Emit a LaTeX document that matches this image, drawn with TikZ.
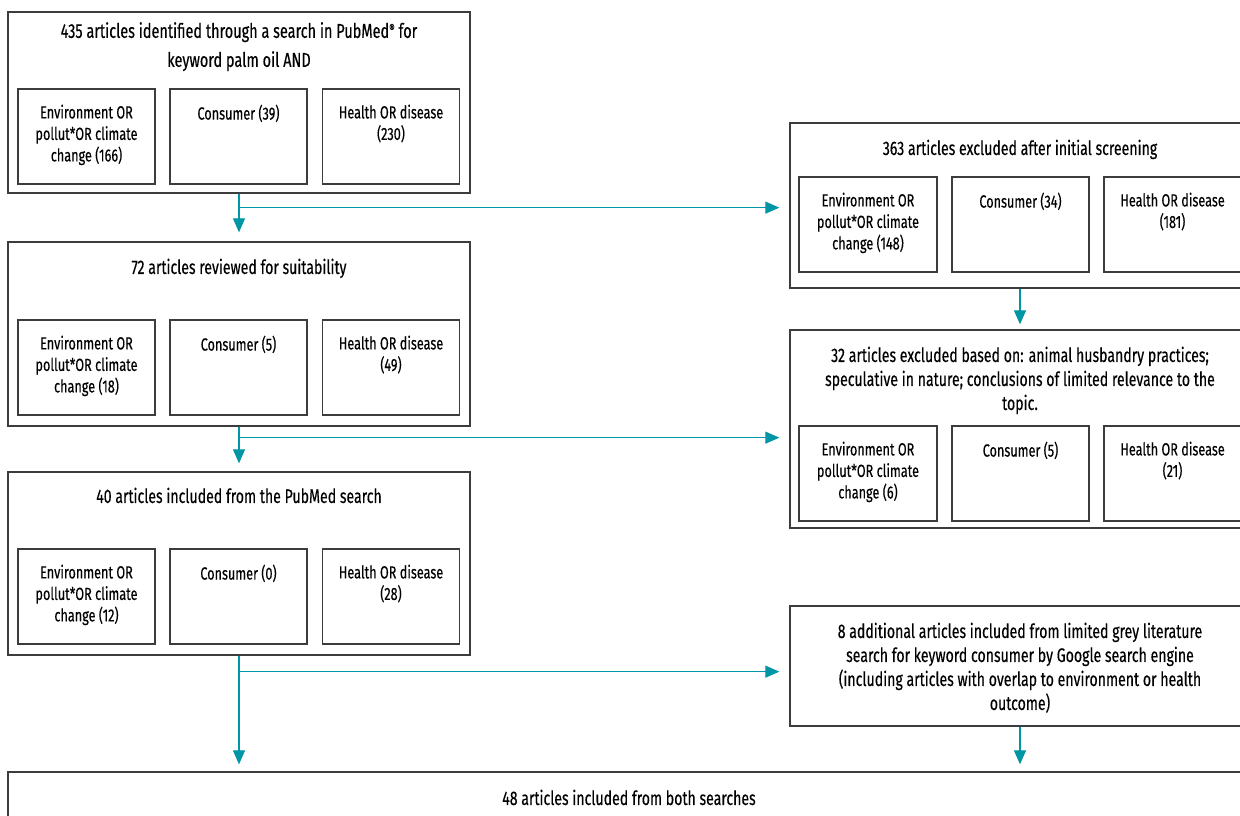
\documentclass[tikz,border=0pt]{standalone}
\usepackage{fontspec}
\setmainfont{Fira Sans}[FakeStretch=0.72, FakeBold=0.3]
\usetikzlibrary{arrows.meta}
\definecolor{flowteal}{HTML}{0096A6}
\definecolor{boxgray}{HTML}{3C3C3C}
\tikzset{
  outerbox/.style={draw=boxgray, line width=1.3pt, rectangle, inner sep=0pt},
  subbox/.style={draw=boxgray, line width=1.3pt, rectangle, inner sep=0pt, minimum width=137pt, minimum height=95pt},
  titletxt/.style={anchor=north, align=center, inner sep=0pt, font=\fontsize{19.6}{24}\selectfont},
  bigtitle/.style={anchor=north, align=center, inner sep=0pt, font=\fontsize{20.1}{29}\selectfont},
  subtxt/.style={anchor=north, align=center, inner sep=0pt, font=\fontsize{17.6}{21.5}\selectfont},
  flow/.style={draw=flowteal, line width=1.1pt, -{Triangle[length=14pt,width=12pt]}},
}
\begin{document}
\begin{tikzpicture}[x=1pt,y=-1pt]
\useasboundingbox (0,0) rectangle (1240,816);
\fill[white] (0,0) rectangle (1240,816);
\clip (0,0) rectangle (1240,816);

% left column boxes
\node[outerbox, minimum width=462pt, minimum height=181pt] (b1) at (239,102.5) {};
\node[bigtitle] (t1) at (239,22) {435 articles identified through a search in PubMed{\fontsize{12}{12}\selectfont\raisebox{5pt}{®}} for\\keyword palm oil AND};
\node[subbox] (s11) at (86.5,136.5) {};
\node[subbox] (s12) at (238.5,136.5) {};
\node[subbox] (s13) at (391,136.5) {};
\node[subtxt] (u11) at (86.5,104.5) {Environment OR\\pollut*OR climate\\change (166)};
\node[subtxt] (u12) at (238.5,104.5) {Consumer (39)};
\node[subtxt] (u13) at (391,104.5) {Health OR disease\\(230)};

\node[outerbox, minimum width=462pt, minimum height=184pt] (b2) at (239,334) {};
\node[titletxt] (t2) at (239,258.5) {72 articles reviewed for suitability};
\node[subbox] (s21) at (86.5,367.5) {};
\node[subbox] (s22) at (238.5,367.5) {};
\node[subbox] (s23) at (391,367.5) {};
\node[subtxt] (u21) at (86.5,335.5) {Environment OR\\pollut*OR climate\\change (18)};
\node[subtxt] (u22) at (238.5,335.5) {Consumer (5)};
\node[subtxt] (u23) at (391,335.5) {Health OR disease\\(49)};

\node[outerbox, minimum width=462pt, minimum height=183pt] (b3) at (239,563.5) {};
\node[titletxt] (t3) at (239,487.5) {40 articles included from the PubMed search};
\node[subbox] (s31) at (86.5,596.5) {};
\node[subbox] (s32) at (238.5,596.5) {};
\node[subbox] (s33) at (391,596.5) {};
\node[subtxt] (u31) at (86.5,564.5) {Environment OR\\pollut*OR climate\\change (12)};
\node[subtxt] (u32) at (238.5,564.5) {Consumer (0)};
\node[subtxt] (u33) at (391,564.5) {Health OR disease\\(28)};

% right column boxes
\node[outerbox, minimum width=460pt, minimum height=165pt] (bA) at (1020,205.5) {};
\node[titletxt] (tA) at (1020,139.5) {363 articles excluded after initial screening};
\node[subbox, minimum width=138pt] (sA1) at (868,224.5) {};
\node[subbox] (sA2) at (1020.5,224.5) {};
\node[subbox] (sA3) at (1172.5,224.5) {};
\node[subtxt] (vA1) at (868,192.5) {Environment OR\\pollut*OR climate\\change (148)};
\node[subtxt] (vA2) at (1020.5,192.5) {Consumer (34)};
\node[subtxt] (vA3) at (1172.5,192.5) {Health OR disease\\(181)};

\node[outerbox, minimum width=460pt, minimum height=198pt] (bB) at (1020,429) {};
\node[titletxt] (tB) at (1020,346.5) {32 articles excluded based on: animal husbandry practices;\\speculative in nature; conclusions of limited relevance to the\\topic.};
\node[subbox, minimum width=138pt] (sB1) at (868,473.5) {};
\node[subbox] (sB2) at (1020.5,473.5) {};
\node[subbox] (sB3) at (1172.5,473.5) {};
\node[subtxt] (vB1) at (868,441.5) {Environment OR\\pollut*OR climate\\change (6)};
\node[subtxt] (vB2) at (1020.5,441.5) {Consumer (5)};
\node[subtxt] (vB3) at (1172.5,441.5) {Health OR disease\\(21)};

\node[outerbox, minimum width=460pt, minimum height=120pt] (bC) at (1020,666) {};
\node[titletxt] (tC) at (1020,622.5) {8 additional articles included from limited grey literature\\search for keyword consumer by Google search engine\\(including articles with overlap to environment or health\\outcome)};

% bottom box
\node[outerbox, minimum width=1242pt, minimum height=88pt] (bD) at (629,816) {};
\node[titletxt] (tD) at (629,789.5) {48 articles included from both searches};

% connectors
\coordinate (j1) at ([yshift=-14pt]b1.south);
\coordinate (j2) at ([yshift=-11pt]b2.south);
\coordinate (j3) at ([yshift=-16pt]b3.south);
\draw[flow, shorten >=9pt] (b1.south) -- (b2.north);
\draw[flow, shorten >=8pt] (b2.south) -- (b3.north);
\draw[flow, shorten >=7pt] (b3.south) -- (b3.south |- bD.north);
\draw[flow, shorten >=10pt] (j1) -- (j1 -| bA.west);
\draw[flow, shorten >=10pt] (j2) -- (j2 -| bB.west);
\draw[flow, shorten >=10pt] (j3) -- (j3 -| bC.west);
\draw[flow, shorten >=5pt] (bA.south) -- (bB.north);
\draw[flow, shorten >=7pt] (bC.south) -- (bC.south |- bD.north);
\end{tikzpicture}
\end{document}
